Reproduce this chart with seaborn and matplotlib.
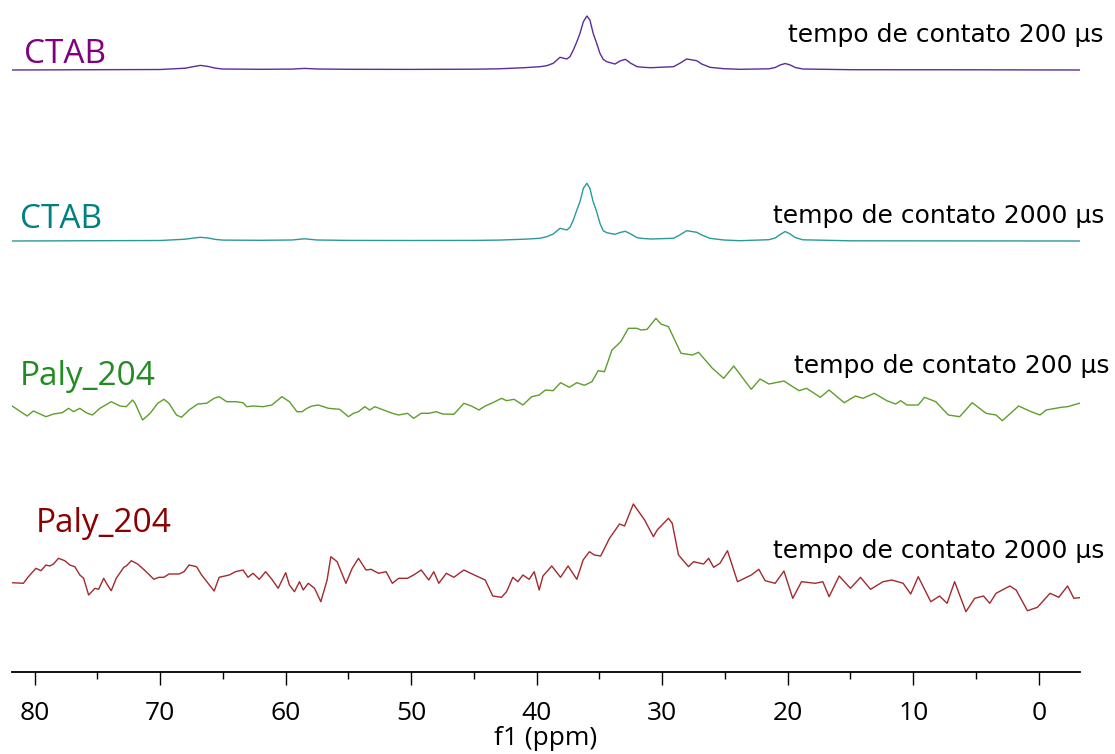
import numpy as np
import pandas as pd
import matplotlib
matplotlib.use("Agg")
import matplotlib.pyplot as plt
import seaborn as sns
from matplotlib.ticker import MultipleLocator

# ---------------- data ----------------
# shared ppm grid of the two CTAB traces
ctab_ppm = [81.8, 75.0, 70.0, 68.0, 67.3, 66.8, 66.2, 65.6, 65.0, 62.0, 59.5, 58.5, 57.5, 55.0,
            50.0, 45.0, 43.0, 41.0, 39.74, 39.2, 38.68, 38.14, 37.6, 37.35, 37.08, 36.8, 36.55,
            36.28, 36.0, 35.76, 35.5, 35.22, 34.96, 34.7, 34.42, 33.76, 33.36, 32.94, 32.5,
            32.0, 31.5, 30.9, 29.1, 28.6, 28.05, 27.25, 26.85, 26.2, 25.1, 23.8, 21.5, 21.0,
            20.6, 20.2, 19.8, 19.4, 18.8, 15.0, 5.0, -3.3]
# CTAB, contact time 200 us
ctab200_int = [0.0, 0.3, 0.5, 1.8, 3.5, 4.6, 3.6, 1.8, 1.0, 0.7, 0.9, 1.6, 1.0, 0.7,
               0.6, 0.8, 1.2, 2.3, 3.3, 4.3, 6.7, 12.7, 11.0, 13.3, 20.0, 28.3, 36.7,
               48.3, 54.0, 50.0, 36.7, 26.7, 16.7, 10.7, 8.3, 6.0, 9.0, 10.7, 6.7,
               3.3, 2.7, 2.3, 3.3, 6.7, 11.0, 9.3, 6.0, 2.7, 1.3, 0.7, 1.2, 2.5,
               5.0, 6.5, 5.0, 2.5, 1.0, 0.3, 0.2, 0.0]
# CTAB, contact time 2000 us
ctab2000_int = [0.0, 0.3, 0.5, 1.8, 3.0, 3.7, 3.0, 1.6, 0.9, 0.7, 1.0, 2.2, 1.0, 0.6,
                0.5, 0.6, 0.9, 1.8, 2.7, 4.3, 7.0, 12.7, 11.0, 13.7, 21.0, 31.0, 39.3,
                52.7, 57.7, 52.7, 39.3, 29.3, 17.7, 10.3, 8.3, 6.7, 8.5, 9.7, 7.0,
                3.3, 2.5, 2.0, 2.7, 6.0, 10.3, 8.7, 6.0, 2.7, 1.0, 0.3, 1.3, 3.0,
                6.5, 9.5, 7.0, 3.5, 1.2, 0.2, 0.1, 0.0]

# Paly_204, contact time 200 us
paly200_ppm = [81.8, 80.6, 80.1, 79.1, 78.5, 77.8, 77.3, 76.9, 76.4, 75.9, 75.4, 74.8, 73.9, 73.2,
               72.7, 72.2, 72.0, 71.4, 70.8, 70.2, 69.7, 69.3, 68.7, 68.3, 67.7, 67.0, 66.3, 65.7,
               65.3, 64.7, 64.0, 63.4, 63.1, 62.6, 61.8, 61.1, 60.3, 59.7, 59.1, 58.7, 58.3, 57.9,
               57.4, 57.0, 56.6, 55.7, 55.0, 54.6, 54.2, 53.7, 53.3, 52.9, 52.2, 51.5, 51.0, 50.3,
               49.8, 49.2, 48.6, 48.0, 47.5, 46.6, 45.8, 45.2, 44.6, 44.1, 43.5, 42.8, 42.4, 41.8,
               41.1, 40.4, 39.8, 39.3, 38.7, 38.1, 37.4, 36.8, 36.2, 35.6, 35.1, 34.6, 34.0, 33.3,
               32.7, 32.0, 31.7, 31.2, 30.5, 30.1, 29.5, 28.5, 27.6, 27.1, 26.0, 25.1, 24.3, 22.9,
               22.2, 21.5, 20.3, 19.1, 18.5, 17.4, 16.7, 15.5, 14.6, 14.0, 13.1, 12.1, 11.4, 11.0,
               10.5, 9.6, 9.1, 8.2, 7.2, 6.3, 5.3, 4.2, 3.4, 2.9, 1.6, 0.6, -0.1, -0.6, -1.8, -2.3,
               -3.4]
paly200_int = [4.0, -6.0, -1.0, -6.7, -4.0, -2.7, 1.7, -1.7, 1.7, -2.7, -5.0, 1.7, 8.3, 4.0,
               3.3, 10.0, 6.7, -10.0, -3.3, 6.7, 10.7, 6.7, -5.0, -7.3, 0.0, 6.0, 6.7, 11.7,
               13.3, 8.3, 8.3, 7.3, 3.3, 4.0, 3.3, 5.0, 13.3, 8.3, -1.7, -1.7, 1.7, 4.0,
               5.0, 3.3, 1.7, 0.7, -6.7, -3.3, -1.7, 3.3, 0.0, 3.3, 0.0, -3.3, -5.0, -3.3,
               -8.3, -3.3, -3.3, -1.7, -4.0, -4.3, 6.7, 4.0, 0.0, 4.0, 7.3, 11.7, 9.3, 10.7,
               5.0, 13.3, 15.0, 20.0, 19.3, 27.3, 22.7, 27.3, 24.7, 28.3, 39.3, 38.3, 60.0, 68.3,
               81.7, 81.7, 80.0, 80.7, 91.7, 86.0, 83.3, 56.7, 55.0, 57.7, 41.7, 31.7, 44.0, 20.7,
               31.0, 26.0, 29.0, 19.3, 21.7, 12.7, 20.0, 7.3, 14.0, 11.7, 16.7, 9.3, 6.0, 9.3,
               5.0, 5.0, 12.7, 8.3, -5.0, -6.7, 7.3, -3.3, -5.0, -10.7, 4.0, -1.7, -5.0, 0.0, 2.7, 3.3,
               7.3]

# Paly_204, contact time 2000 us
paly2000_ppm = [81.8, 80.9, 80.5, 79.9, 79.5, 79.1, 78.8, 78.5, 78.1, 77.6, 77.2, 76.8, 76.4, 76.1,
                75.7, 75.2, 74.9, 74.5, 74.2, 73.9, 73.5, 72.9, 72.7, 72.3, 71.8, 71.2, 70.5, 70.1,
                69.7, 69.3, 68.5, 68.1, 67.7, 67.1, 66.7, 65.7, 65.3, 64.5, 64.0, 63.4, 63.0, 62.6,
                62.1, 61.6, 61.1, 60.6, 60.0, 59.7, 59.3, 58.9, 58.6, 58.2, 57.7, 57.2, 56.7, 56.4,
                55.9, 55.2, 54.7, 54.2, 53.6, 53.2, 52.6, 52.0, 51.5, 51.0, 50.3, 49.8, 49.2, 48.6,
                48.2, 47.8, 47.2, 46.6, 45.8, 44.8, 44.1, 43.5, 42.8, 42.4, 41.9, 41.5, 41.1, 40.6,
                40.2, 39.8, 39.5, 38.8, 38.1, 37.5, 36.8, 36.3, 35.8, 35.4, 34.9, 34.2, 33.4, 33.0,
                32.3, 31.4, 30.7, 30.4, 29.5, 29.2, 28.7, 27.9, 27.5, 26.7, 26.3, 25.9, 25.4, 24.8,
                24.0, 22.9, 22.3, 21.8, 21.0, 20.3, 19.6, 18.9, 17.8, 17.2, 16.7, 15.9, 15.0, 14.2,
                13.4, 12.4, 11.7, 10.8, 10.2, 9.6, 8.6, 7.9, 7.3, 6.7, 5.8, 5.1, 4.4, 3.9, 3.4, 2.3,
                1.8, 0.9, 0.1, -0.9, -1.6, -2.3, -2.8, -3.5]
paly2000_int = [-0.7, -1.3, 5.3, 13.7, 11.3, 17.0, 16.0, 18.0, 23.7, 21.3, 17.0, 15.3, 7.0, 3.7,
                -13.0, -6.3, -7.3, 3.7, -3.0, -8.7, 3.7, 14.7, 16.0, 21.3, 18.0, 11.3, 2.7, 4.7,
                4.7, 8.0, 8.0, 10.3, 17.0, 15.3, 7.0, -9.0, 4.7, 7.0, 10.3, 12.0, 4.7, 8.7,
                2.7, 10.3, 2.7, -6.3, 9.3, -3.0, -9.7, 0.3, -8.0, -1.3, -6.3, -19.7, 2.0, 25.3,
                20.3, -1.3, 13.7, 23.7, 12.0, 12.7, 8.7, 10.3, -1.3, 3.7, 3.7, 7.0, 12.0, 2.0,
                10.3, -1.3, 8.7, 4.7, 12.0, 6.0, 2.0, -14.0, -15.3, -9.7, 4.7, 0.3, 7.0, 2.7,
                10.3, -8.0, 6.0, 16.0, 4.7, 16.0, 2.7, 22.0, 30.3, 27.0, 26.0, 43.7, 58.0, 56.0,
                78.0, 62.0, 45.3, 52.0, 63.7, 58.7, 27.0, 15.3, 20.3, 18.0, 23.7, 14.7, 18.7, 31.3,
                0.3, 7.0, 12.7, 1.3, -1.3, 11.0, -16.3, 0.3, -1.3, 0.3, -14.7, 6.0, -6.3, 4.7,
                -7.3, 0.3, 2.0, -1.3, -12.0, 5.3, -19.7, -14.0, -21.3, 0.3, -29.7, -16.3, -14.0, -21.3, -11.3, -4.0,
                -8.0, -28.7, -25.3, -11.3, -15.3, -4.0, -16.3, -15.3]

offsets = [601.7, 430.7, 261.7, 89.7]          # vertical stacking of the four traces
line_colors = ["#5B2C9A", "#2A9A98", "#5E9E2C", "#A22A2E"]
label_colors = ["#800080", "#008080", "#228B22", "#8B0000"]
sample_labels = ["CTAB", "CTAB", "Paly_204", "Paly_204"]
time_labels = ["tempo de contato 200 µs", "tempo de contato 2000 µs",
               "tempo de contato 200 µs", "tempo de contato 2000 µs"]
xticks = [80, 70, 60, 50, 40, 30, 20, 10, 0]

# ---------------- figure ----------------
W, H = 1115, 754
sns.set_theme(style="white")
plt.rcParams["font.family"] = ["Open Sans", "DejaVu Sans"]

fig = plt.figure(figsize=(W / 100, H / 100), dpi=100)
ax = fig.add_axes([11.7 / W, (H - 671.7) / H, (1080 - 11.7) / W, 671.7 / H])

series = [(ctab_ppm, ctab200_int), (ctab_ppm, ctab2000_int),
          (paly200_ppm, paly200_int), (paly2000_ppm, paly2000_int)]
for (ppm, inten), off, col in zip(series, offsets, line_colors):
    df = pd.DataFrame({"ppm": ppm, "y": np.asarray(inten) + off})
    sns.lineplot(data=df, x="ppm", y="y", ax=ax, color=col, lw=1.0,
                 sort=False, estimator=None)

ax.set_xlim(81.83, -3.29)
ax.set_ylim(0, 671.7)
for s in ["top", "left", "right"]:
    ax.spines[s].set_visible(False)
ax.spines["bottom"].set_color("black")
ax.spines["bottom"].set_linewidth(1.3)
ax.set_yticks([])
ax.set_ylabel("")
ax.set_xticks(xticks)
ax.xaxis.set_minor_locator(MultipleLocator(5))
ax.tick_params(axis="x", which="major", direction="out", length=9.2, width=1.0,
               color="black", labelsize=19, pad=12, bottom=True)
ax.tick_params(axis="x", which="minor", direction="out", length=4.8, width=1.0,
               color="black", bottom=True)
ax.set_xlabel("f1 (ppm)", fontsize=19, labelpad=0, color="black")
for t in ax.get_xticklabels():
    t.set_color("black")

# sample labels (left) and contact time labels (right)
label_pos = [(24, 63), (20, 228.3), (20, 385), (36, 531.7)]
time_pos = [(1103, 42), (1104, 222.7), (1110, 373.3), (1104, 558.3)]
for lab, col, (x, y) in zip(sample_labels, label_colors, label_pos):
    fig.text(x / W, 1 - y / H, lab, color=col, fontsize=24, ha="left", va="baseline")
for lab, (x, y) in zip(time_labels, time_pos):
    fig.text(x / W, 1 - y / H, lab, color="black", fontsize=18, ha="right", va="baseline",
             family=["DejaVu Sans"])

fig.savefig("out.png", dpi=100)
